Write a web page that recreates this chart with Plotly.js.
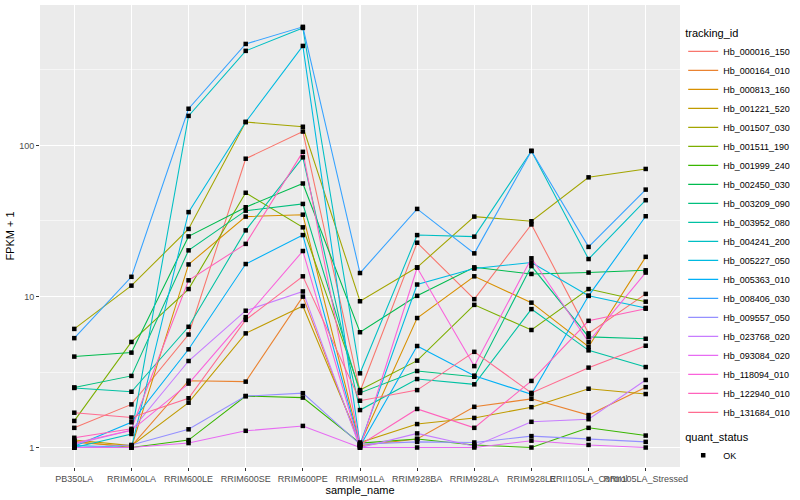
<!DOCTYPE html>
<html>
<head>
<meta charset="utf-8">
<script src="https://cdn.plot.ly/plotly-3.0.1.min.js"></script>
<style>html,body{margin:0;padding:0;background:#fff;} #chart{width:800px;height:500px;}</style>
</head>
<body>
<div id="chart"></div>
<script>
// ---- data (FPKM + 1 per sample) ----
const samples = ["PB350LA","RRIM600LA","RRIM600LE","RRIM600SE","RRIM600PE","RRIM901LA","RRIM928BA","RRIM928LA","RRIM928LE","RRII105LA_Control","RRII105LA_Stressed"];
const trackingIds = ["Hb_000016_150","Hb_000164_010","Hb_000813_160","Hb_001221_520","Hb_001507_030","Hb_001511_190","Hb_001999_240","Hb_002450_030","Hb_003209_090","Hb_003952_080","Hb_004241_200","Hb_005227_050","Hb_005363_010","Hb_008406_030","Hb_009557_050","Hb_023768_020","Hb_093084_020","Hb_118094_010","Hb_122940_010","Hb_131684_010"];

const hb_000016_150 = [1.35, 1.93, 5.6, 81.7, 123.6, 2.35, 22.7, 9.6, 30, 5.7, 10.4];
const hb_000164_010 = [1.08, 1.02, 2.77, 2.73, 9.98, 1.03, 1.14, 1.86, 2.1, 1.64, 2.51];
const hb_000813_160 = [1.1, 1.0, 16.3, 33.8, 34.8, 1.05, 7.2, 13.6, 9.1, 4.65, 18.3];
const hb_001221_520 = [1.12, 1.03, 1.98, 5.7, 8.65, 1.08, 1.43, 1.57, 1.85, 2.45, 2.26];
const hb_001507_030 = [6.1, 11.8, 28, 143, 133, 9.3, 15.6, 33.8, 31.5, 61.5, 69.9];
const hb_001511_190 = [1.5, 5.0, 11.2, 48.6, 28.7, 2.4, 3.76, 8.8, 6.0, 11.2, 9.24];
const hb_001999_240 = [1.0, 1.0, 1.12, 2.19, 2.14, 1.07, 1.14, 1.04, 1.0, 1.35, 1.2];
const hb_002450_030 = [4.0, 4.25, 25, 39, 56, 5.8, 10.1, 15.6, 14.1, 14.4, 14.9];
const hb_003209_090 = [2.5, 2.98, 20.2, 37, 41, 2.3, 3.21, 2.94, 15.9, 5.4, 5.25];
const hb_003952_080 = [2.48, 2.34, 6.3, 27.4, 83.4, 1.77, 2.84, 2.62, 8.25, 4.4, 3.41];
const hb_004241_200 = [1.0, 1.23, 157, 423, 600, 3.1, 25.5, 24.9, 92, 17.7, 43.4];
const hb_005227_050 = [1.03, 1.0, 36.2, 143, 456, 1.05, 12.0, 15.3, 16.8, 10.1, 8.4];
const hb_005363_010 = [1.02, 1.47, 4.47, 16.4, 25.5, 1.02, 4.7, 2.99, 2.25, 10.1, 34];
const hb_008406_030 = [5.3, 13.5, 175, 470, 610, 14.3, 38, 19.3, 92, 21.3, 51];
const hb_009557_050 = [1.0, 1.04, 1.32, 2.19, 2.29, 1.05, 1.09, 1.08, 1.19, 1.14, 1.09];
const hb_023768_020 = [1.05, 1.3, 3.74, 8.05, 10.8, 1.0, 1.24, 1.02, 1.48, 1.54, 2.8];
const hb_093084_020 = [1.0, 1.0, 1.07, 1.29, 1.39, 1.0, 1.0, 1.0, 1.11, 1.04, 1.0];
const hb_118094_010 = [1.07, 1.3, 2.65, 7.3, 20, 1.0, 15.5, 3.46, 17.9, 5.0, 14.4];
const hb_122940_010 = [1.16, 1.33, 12.8, 22.3, 90.7, 1.04, 1.8, 1.35, 2.76, 6.9, 8.3];
const hb_131684_010 = [1.7, 1.58, 2.12, 7.0, 13.6, 2.04, 2.4, 4.3, 2.3, 3.38, 4.72];

const seriesValues = [hb_000016_150, hb_000164_010, hb_000813_160, hb_001221_520, hb_001507_030, hb_001511_190, hb_001999_240, hb_002450_030, hb_003209_090, hb_003952_080, hb_004241_200, hb_005227_050, hb_005363_010, hb_008406_030, hb_009557_050, hb_023768_020, hb_093084_020, hb_118094_010, hb_122940_010, hb_131684_010];
const quantStatus = ["OK"];

// ---- styles ----
const palette = ["#F8766D","#EA8331","#D89000","#C09B00","#A3A500","#7CAE00","#39B600","#00BB4E","#00BF7D","#00C1A3","#00BFC4","#00BAE0","#00B0F6","#35A2FF","#9590FF","#C77CFF","#E76BF3","#FA62DB","#FF62BC","#FF6C90"];

const traces = [];
trackingIds.forEach((id, i) => {
  traces.push({
    type: "scatter", mode: "lines", name: id,
    x: samples, y: seriesValues[i],
    line: {color: palette[i], width: 1.07},
    legend: "legend", hoverinfo: "name+y"
  });
});
const allX = [], allY = [];
seriesValues.forEach(vals => vals.forEach((v, j) => { allX.push(samples[j]); allY.push(v); }));
traces.push({
  type: "scatter", mode: "markers", name: quantStatus[0],
  x: allX, y: allY,
  marker: {color: "#000000", size: 4.5, symbol: "square"},
  legend: "legend2"
});

const tickFont = {family: "Liberation Sans, Arial, sans-serif", size: 9, color: "#4D4D4D"};
const titleFont = {family: "Liberation Sans, Arial, sans-serif", size: 11, color: "#000000"};

const layout = {
  width: 800, height: 500,
  margin: {l: 40, r: 116, t: 5, b: 33},
  paper_bgcolor: "#FFFFFF",
  plot_bgcolor: "#EBEBEB",
  font: {family: "Liberation Sans, Arial, sans-serif"},
  showlegend: true,
  xaxis: {
    type: "category", categoryorder: "array", categoryarray: samples,
    range: [-0.6, samples.length - 0.4],
    showgrid: true, gridcolor: "#FFFFFF", gridwidth: 1.07,
    zeroline: false, showline: false,
    ticks: "outside", ticklen: 3, tickcolor: "#333333", tickwidth: 1,
    tickangle: 0, automargin: false,
    tickfont: tickFont,
    title: {text: "sample_name", font: titleFont, standoff: 2}
  },
  yaxis: {
    type: "log",
    range: [-0.129, 2.93],
    tickmode: "array", tickvals: [1, 10, 100], ticktext: ["1", "10", "100"],
    showgrid: true, gridcolor: "#FFFFFF", gridwidth: 1.07,
    minor: {tickmode: "array", tickvals: [Math.pow(10,0.5), Math.pow(10,1.5), Math.pow(10,2.5)], showgrid: true, gridcolor: "#FFFFFF", gridwidth: 0.53, ticks: ""},
    zeroline: false, showline: false,
    ticks: "outside", ticklen: 3, tickcolor: "#333333", tickwidth: 1,
    automargin: false,
    tickfont: tickFont,
    title: {text: "FPKM + 1", font: titleFont, standoff: 2}
  },
  legend: {
    x: 1.005, xanchor: "left", y: 0.962, yanchor: "top",
    bgcolor: "rgba(0,0,0,0)",
    font: {family: "Liberation Sans, Arial, sans-serif", size: 9, color: "#000000"},
    title: {text: "tracking_id", font: titleFont},
    itemwidth: 30, tracegroupgap: 0
  },
  legend2: {
    x: 1.005, xanchor: "left", y: 0.088, yanchor: "top",
    bgcolor: "rgba(0,0,0,0)",
    font: {family: "Liberation Sans, Arial, sans-serif", size: 9, color: "#000000"},
    title: {text: "quant_status", font: titleFont},
    itemwidth: 30
  }
};

Plotly.newPlot("chart", traces, layout, {displayModeBar: false, staticPlot: true});
</script>
</body>
</html>
